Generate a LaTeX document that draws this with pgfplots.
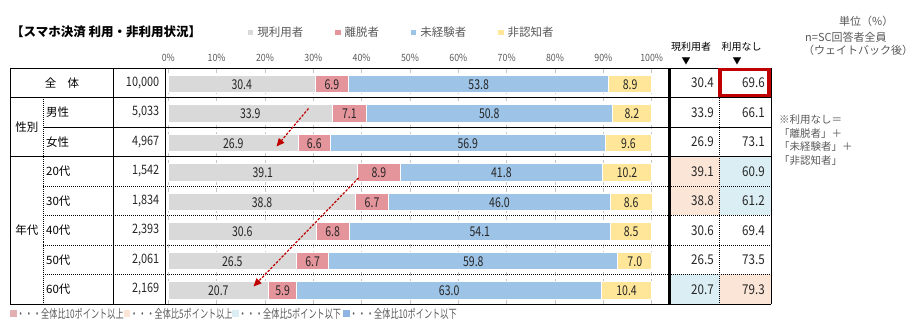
\documentclass[border=0pt]{standalone}
\usepackage{fontspec}
\setmainfont{Noto Sans CJK JP}
\usepackage{pgfplots}
\pgfplotsset{compat=1.18}
\usetikzlibrary{arrows.meta}
\definecolor{cUse}{HTML}{D9D9D9}
\definecolor{cQuit}{HTML}{E4959C}
\definecolor{cNever}{HTML}{9DC3E6}
\definecolor{cUnk}{HTML}{FFE699}
\definecolor{txt}{HTML}{595959}
\definecolor{dred}{HTML}{C00000}
\definecolor{hiOr}{HTML}{FBE5D6}
\definecolor{hiBl}{HTML}{DAEEF3}
\definecolor{lgPk}{HTML}{E2AFB3}
\definecolor{lgBl}{HTML}{8DB4E2}
\newcommand{\fs}[1]{\fontsize{#1}{#1}\selectfont}
\newcommand{\nar}[2]{\scalebox{#1}[1]{#2}}
\pgfplotsset{geom/.style={at={(168.3pt,-304pt)}, anchor=south west,
  scale only axis, width=483.4pt, height=236pt,
  xmin=0, xmax=100, ymin=0, ymax=8, enlargelimits=false, clip=false}}
\begin{document}
\begin{tikzpicture}
\path[use as bounding box] (0pt,0pt) rectangle (916pt,-331pt);
\begin{scope}[x=1pt,y=-1pt]
\fill[hiOr] (669.5,156.5) rectangle (719.5,215.5);
\fill[hiBl] (719.5,156.5) rectangle (771,215.5);
\fill[hiBl] (669.5,274.5) rectangle (719.5,304);
\fill[hiOr] (719.5,274.5) rectangle (771,304);
\end{scope}
\begin{axis}[geom,
  xbar stacked, bar width=17.5pt,
  axis line style={draw=none}, tick style={draw=none},
  ytick=\empty, xtick={0,10,...,100}, xticklabel pos=upper,
  xticklabel={\nar{0.88}{\pgfmathprintnumber{\tick}\%}},
  /pgf/number format/assume math mode=true,
  xticklabel style={font=\fs{10}, text=txt, yshift=3pt},
  xmajorgrids, grid style={gray!45, dash pattern=on 4pt off 3pt, line width=0.8pt},
  legend columns=4,
  legend image code/.code={\fill[#1,draw=none] (0pt,-2.6pt) rectangle (5.2pt,2.6pt);},
  legend style={at={(axis description cs:0.1649,1.1504)}, anchor=west, draw=none, fill=none, inner sep=0pt, font=\fs{11.5}, text=txt, nodes={inner sep=0pt}, /tikz/every odd column/.append style={column sep=4pt}, /tikz/every even column/.append style={column sep=32pt}},
  every axis plot/.append style={draw=white, line width=1pt},
]
\addplot[fill=cUse] coordinates {(30.4,7.45) (33.9,6.45) (26.9,5.45) (39.1,4.45) (38.8,3.45) (30.6,2.45) (26.5,1.45) (20.7,0.45)};
\addplot[fill=cQuit] coordinates {(6.9,7.45) (7.1,6.45) (6.6,5.45) (8.9,4.45) (6.7,3.45) (6.8,2.45) (6.7,1.45) (5.9,0.45)};
\addplot[fill=cNever] coordinates {(53.8,7.45) (50.8,6.45) (56.9,5.45) (41.8,4.45) (46.0,3.45) (54.1,2.45) (59.8,1.45) (63.0,0.45)};
\addplot[fill=cUnk] coordinates {(8.9,7.45) (8.2,6.45) (9.6,5.45) (10.2,4.45) (8.6,3.45) (8.5,2.45) (7.0,1.45) (10.4,0.45)};
\legend{現利用者,離脱者,未経験者,非認知者}
\end{axis}
% segment labels, at the middle of each segment
\begin{axis}[geom, hide axis,
  point meta=explicit symbolic,
  nodes near coords={\fs{13.5}\nar{0.78}{\pgfplotspointmeta}},
  nodes near coords align=center,
  every node near coord/.append style={text=black!85, inner sep=0pt}]
\addplot[draw=none, mark=none] coordinates {(15.2,7.45)[30.4] (16.95,6.45)[33.9] (13.45,5.45)[26.9] (19.55,4.45)[39.1] (19.4,3.45)[38.8] (15.3,2.45)[30.6] (13.25,1.45)[26.5] (10.35,0.45)[20.7]};
\addplot[draw=none, mark=none] coordinates {(33.85,7.45)[6.9] (37.45,6.45)[7.1] (30.2,5.45)[6.6] (43.55,4.45)[8.9] (42.15,3.45)[6.7] (34.0,2.45)[6.8] (29.85,1.45)[6.7] (23.65,0.45)[5.9]};
\addplot[draw=none, mark=none] coordinates {(64.2,7.45)[53.8] (66.4,6.45)[50.8] (61.95,5.45)[56.9] (68.9,4.45)[41.8] (68.5,3.45)[46.0] (64.45,2.45)[54.1] (63.1,1.45)[59.8] (58.1,0.45)[63.0]};
\addplot[draw=none, mark=none] coordinates {(95.55,7.45)[8.9] (95.9,6.45)[8.2] (95.2,5.45)[9.6] (94.9,4.45)[10.2] (95.75,3.45)[8.6] (95.75,2.45)[8.5] (96.5,1.45)[7.0] (94.8,0.45)[10.4]};
\end{axis}
\begin{scope}[x=1pt,y=-1pt]
% table lines
\draw[line width=0.9pt] (10,68) -- (771,68);
\draw[line width=0.9pt] (10,97.5) -- (771,97.5);
\draw[line width=0.9pt] (43,127) -- (771,127);
\draw[line width=0.9pt] (10,156.5) -- (771,156.5);
\foreach \yy in {186,215.5,245,274.5}
  \draw[line width=0.9pt, dash pattern=on 1pt off 1pt] (43,\yy) -- (771,\yy);
\draw[line width=0.9pt] (10,304) -- (771,304);
\draw[line width=0.9pt] (10,68) -- (10,304);
\draw[line width=0.9pt, dash pattern=on 1pt off 1pt] (43,97.5) -- (43,304);
\draw[line width=0.9pt] (113,68) -- (113,304);
\draw[line width=0.9pt] (165.5,68) -- (165.5,304);
\draw[line width=2.5pt] (669.5,68) -- (669.5,304);
\draw[line width=0.9pt, dash pattern=on 1pt off 1pt] (719.5,68) -- (719.5,304);
\draw[line width=0.9pt] (771,68) -- (771,304);
\draw[dred, line width=3.5pt] (720,69.5) rectangle (769,95.5);
% row labels
\node[font=\fs{11.5}] at (62,82.75) {全　体};
\node[font=\fs{11.5}] at (27,127) {性別};
\node[font=\fs{11.5}] at (27,230.25) {年代};
\foreach \lab/\yy in {男性/112.25,女性/141.75,20代/171.25,30代/200.75,40代/230.25,50代/259.75,60代/289.25}
  \node[font=\fs{11.5}, anchor=west, inner sep=0pt] at (46,\yy) {\lab};
\foreach \nn/\yy in {{10,000}/82.75,{5,033}/112.25,{4,967}/141.75,{1,542}/171.25,{1,834}/200.75,{2,393}/230.25,{2,061}/259.75,{2,169}/289.25}
  \node[font=\fs{13}, anchor=east, inner sep=0pt, text=black!85] at (159.5,\yy) {\nar{0.84}{\nn}};
\foreach \a/\b/\yy in {30.4/69.6/82.75,33.9/66.1/112.25,26.9/73.1/141.75,39.1/60.9/171.25,38.8/61.2/200.75,30.6/69.4/230.25,26.5/73.5/259.75,20.7/79.3/289.25}{
  \node[font=\fs{13.5}, anchor=east, inner sep=0pt, text=black!85] at (714,\yy) {\nar{0.86}{\a}};
  \node[font=\fs{13.5}, anchor=east, inner sep=0pt, text=black!85] at (765,\yy) {\nar{0.86}{\b}};
}
% headers
\node[font=\fs{10}] at (691,46.5) {現利用者};
\node[font=\fs{10}] at (741.5,46.5) {利用なし};
\node[font=\fs{9}] at (686,61) {▼};
\node[font=\fs{9}] at (737,61) {▼};
% title
\node[font=\fs{12.5}\bfseries, anchor=west, inner sep=0pt] at (11,32) {【スマホ決済 利用・非利用状況】};
% top right
\node[font=\fs{11}, text=txt, anchor=west, inner sep=0pt] at (839,21) {単位（\%）};
\node[font=\fs{11}, text=txt, anchor=west, inner sep=0pt] at (805,37) {n=SC回答者全員};
\node[font=\fs{11}, text=txt, anchor=west, inner sep=0pt] at (803,50) {（ウェイトバック後）};
% note
\node[font=\fs{10.5}, text=txt, anchor=west, inner sep=0pt] at (779,120) {※利用なし＝};
\node[font=\fs{10.5}, text=txt, anchor=west, inner sep=0pt] at (779,133.5) {「離脱者」＋};
\node[font=\fs{10.5}, text=txt, anchor=west, inner sep=0pt] at (779,147) {「未経験者」＋};
\node[font=\fs{10.5}, text=txt, anchor=west, inner sep=0pt] at (779,160.5) {「非認知者」};
% arrows
\draw[dred, line width=1.2pt, dash pattern=on 2.5pt off 1.5pt, -{Triangle[length=8pt,width=7pt]}] (308.5,108.5) -- (276.5,146.5);
\draw[dred, line width=1.2pt, dash pattern=on 2.5pt off 1.5pt, -{Triangle[length=8pt,width=7pt]}] (358.5,178) -- (253.5,286.5);
% bottom legend
\fill[lgPk] (10,310) rectangle (16.5,317);
\node[font=\fs{12}, text=txt, anchor=west, inner sep=0pt] at (16.5,313.5) {\nar{0.68}{・・・全体比10ポイント以上}};
\fill[hiOr] (123.5,310) rectangle (130,317);
\node[font=\fs{12}, text=txt, anchor=west, inner sep=0pt] at (130,313.5) {\nar{0.68}{・・・全体比5ポイント以上}};
\fill[hiBl] (232,310) rectangle (238.5,317);
\node[font=\fs{12}, text=txt, anchor=west, inner sep=0pt] at (238.5,313.5) {\nar{0.68}{・・・全体比5ポイント以下}};
\fill[lgBl] (343,310) rectangle (349.5,317);
\node[font=\fs{12}, text=txt, anchor=west, inner sep=0pt] at (349.5,313.5) {\nar{0.68}{・・・全体比10ポイント以下}};
\end{scope}
\end{tikzpicture}
\end{document}
